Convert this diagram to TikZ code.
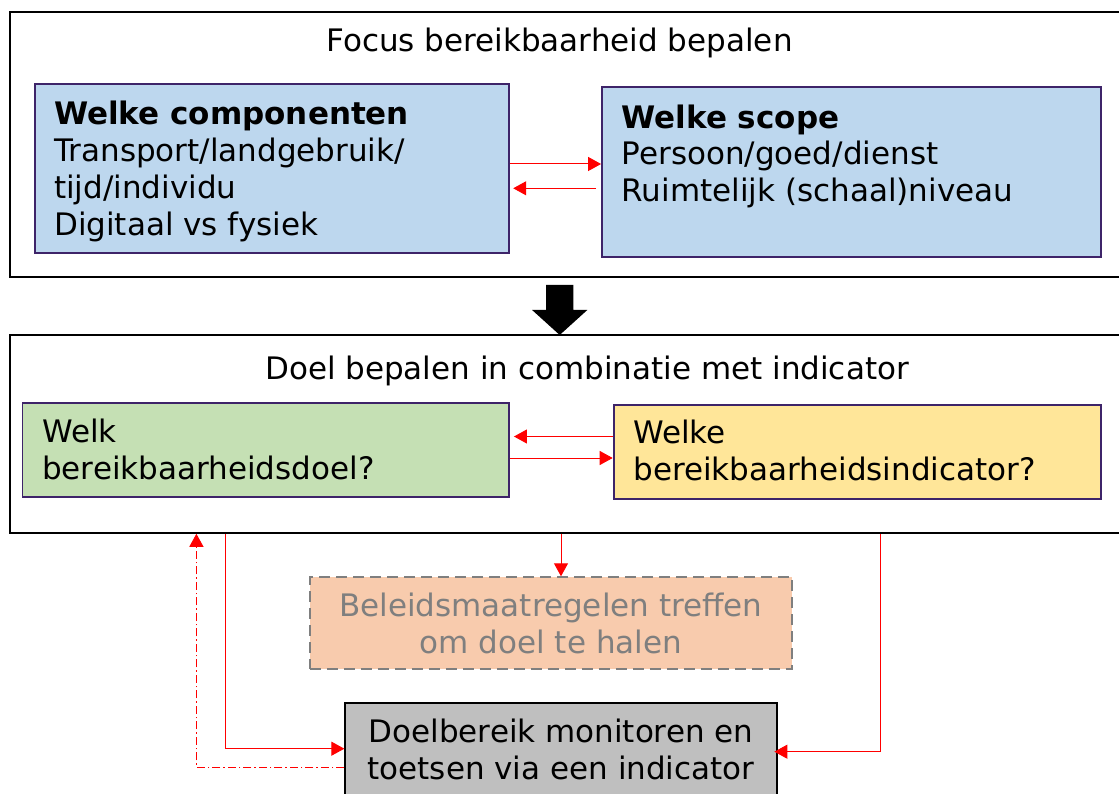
\documentclass[tikz,border=0pt]{standalone}
\usepackage{fontspec}
\setmainfont{DejaVu Sans}
\usetikzlibrary{positioning,arrows.meta}

\definecolor{boxline}{HTML}{3E2469}
\definecolor{compblue}{HTML}{BDD7EE}
\definecolor{goalgreen}{HTML}{C5E0B4}
\definecolor{indyellow}{HTML}{FFE699}
\definecolor{policypeach}{HTML}{F8CBAD}
\definecolor{monigray}{HTML}{BFBFBF}
\definecolor{softgray}{HTML}{7F7F7F}

\tikzset{
  outerbox/.style={draw=black, line width=2pt, inner sep=0pt},
  askbox/.style={draw=boxline, line width=1.8pt, inner sep=0pt},
  lefttxt/.style={anchor=base west, align=left, inner sep=0pt},
  redarr/.style={draw=red, line width=1pt, -{Triangle[length=13pt,width=14pt]}},
  dashdot/.style={dash pattern=on 8pt off 3pt on 1.5pt off 3pt},
}

\begin{document}
\begin{tikzpicture}[x=1pt, y=-1pt, font=\fontsize{31}{36.8}\selectfont]
    \useasboundingbox (0,0) rectangle (1119,794);
    \clip (0,0) rectangle (1119,794);
    % focus
    \node[outerbox, minimum width=1115pt, minimum height=264.7pt] (focus) at (567.5,144.6) {};
    \node[anchor=base, inner sep=0pt] (focusT) at (559.5,51.7) {Focus bereikbaarheid bepalen};
    \node[askbox, fill=compblue, minimum width=474pt, minimum height=169pt] (comp) at (271.6,168.8) {};
    \node[lefttxt] (compT) at (54,235.4) {\textbf{Welke componenten}\\Transport/landgebruik/\\tijd/individu\\Digitaal vs fysiek};
    \node[askbox, fill=compblue, minimum width=498.8pt, minimum height=169.7pt] (scope) at (851.4,172.2) {};
    \node[lefttxt] (scopeT) at (621.4,201.7) {\textbf{Welke scope}\\Persoon/goed/dienst\\Ruimtelijk (schaal)niveau};
    \draw[redarr] ([yshift=4.8pt]comp.east) -- ([yshift=8.2pt]scope.west);
    \draw[redarr] ([xshift=-5pt,yshift=-16.1pt]scope.west) -- ([xshift=3.7pt,yshift=-19.5pt]comp.east);
    % doel
    \node[outerbox, minimum width=1115pt, minimum height=197.7pt] (doel) at (567.5,433.9) {};
    \node[anchor=base, inner sep=0pt] (doelT) at (587,379.3) {Doel bepalen in combinatie met indicator};
    \node[askbox, fill=goalgreen, minimum width=486.1pt, minimum height=94pt] (goal) at (265.6,449.7) {};
    \node[lefttxt] (goalT) at (42,479) {Welk\\bereikbaarheidsdoel?};
    \node[askbox, fill=indyellow, minimum width=487.4pt, minimum height=94pt] (ind) at (857.3,452.3) {};
    \node[lefttxt] (indT) at (633.2,480.7) {Welke\\bereikbaarheidsindicator?};
    \draw[redarr] ([yshift=15.8pt]ind.west) -- ([xshift=4.4pt,yshift=13.2pt]goal.east);
    \draw[redarr] ([yshift=-8.3pt]goal.east) -- ([yshift=-5.7pt]ind.west);
    \coordinate (bigtop) at (559.7,285);
    \fill[black] (bigtop) ++(-13.7,0) -- ++(27.3,0) -- ++(0,25) -- ++(14,0) -- ++(-27.6,25)
        -- ++(-27.6,-25) -- ++(14,0) -- cycle;
    % onderste blokken
    \node[draw=softgray, line width=2pt, dash pattern=on 11pt off 6pt, fill=policypeach, text=softgray,
        align=center, inner sep=0pt, minimum width=482.6pt, minimum height=92pt] (policy) at (550.9,623.3)
        {Beleidsmaatregelen treffen\\om doel te halen};
    \node[draw=black, line width=2pt, fill=monigray, align=center, inner sep=0pt,
        minimum width=431.3pt, minimum height=92.6pt] (monitor) at (561,749.2)
        {Doelbereik monitoren en\\toetsen via een indicator};
    \coordinate (mid) at (561,0);
    \coordinate (lbend) at (225,748.7);
    \coordinate (dbend) at (196.4,767.3);
    \coordinate (rbend) at (880.5,751.7);
    \draw[redarr] (doel.south -| mid) -- (policy.north -| mid);
    \draw[redarr] (doel.south -| lbend) -- (lbend) -- (monitor.west |- lbend);
    \draw[redarr, dashdot] (monitor.west |- dbend) -- (dbend) -- (doel.south -| dbend);
    \draw[redarr] (doel.south -| rbend) -- (rbend) -- ([xshift=-3.3pt]monitor.east |- rbend);
\end{tikzpicture}
\end{document}
